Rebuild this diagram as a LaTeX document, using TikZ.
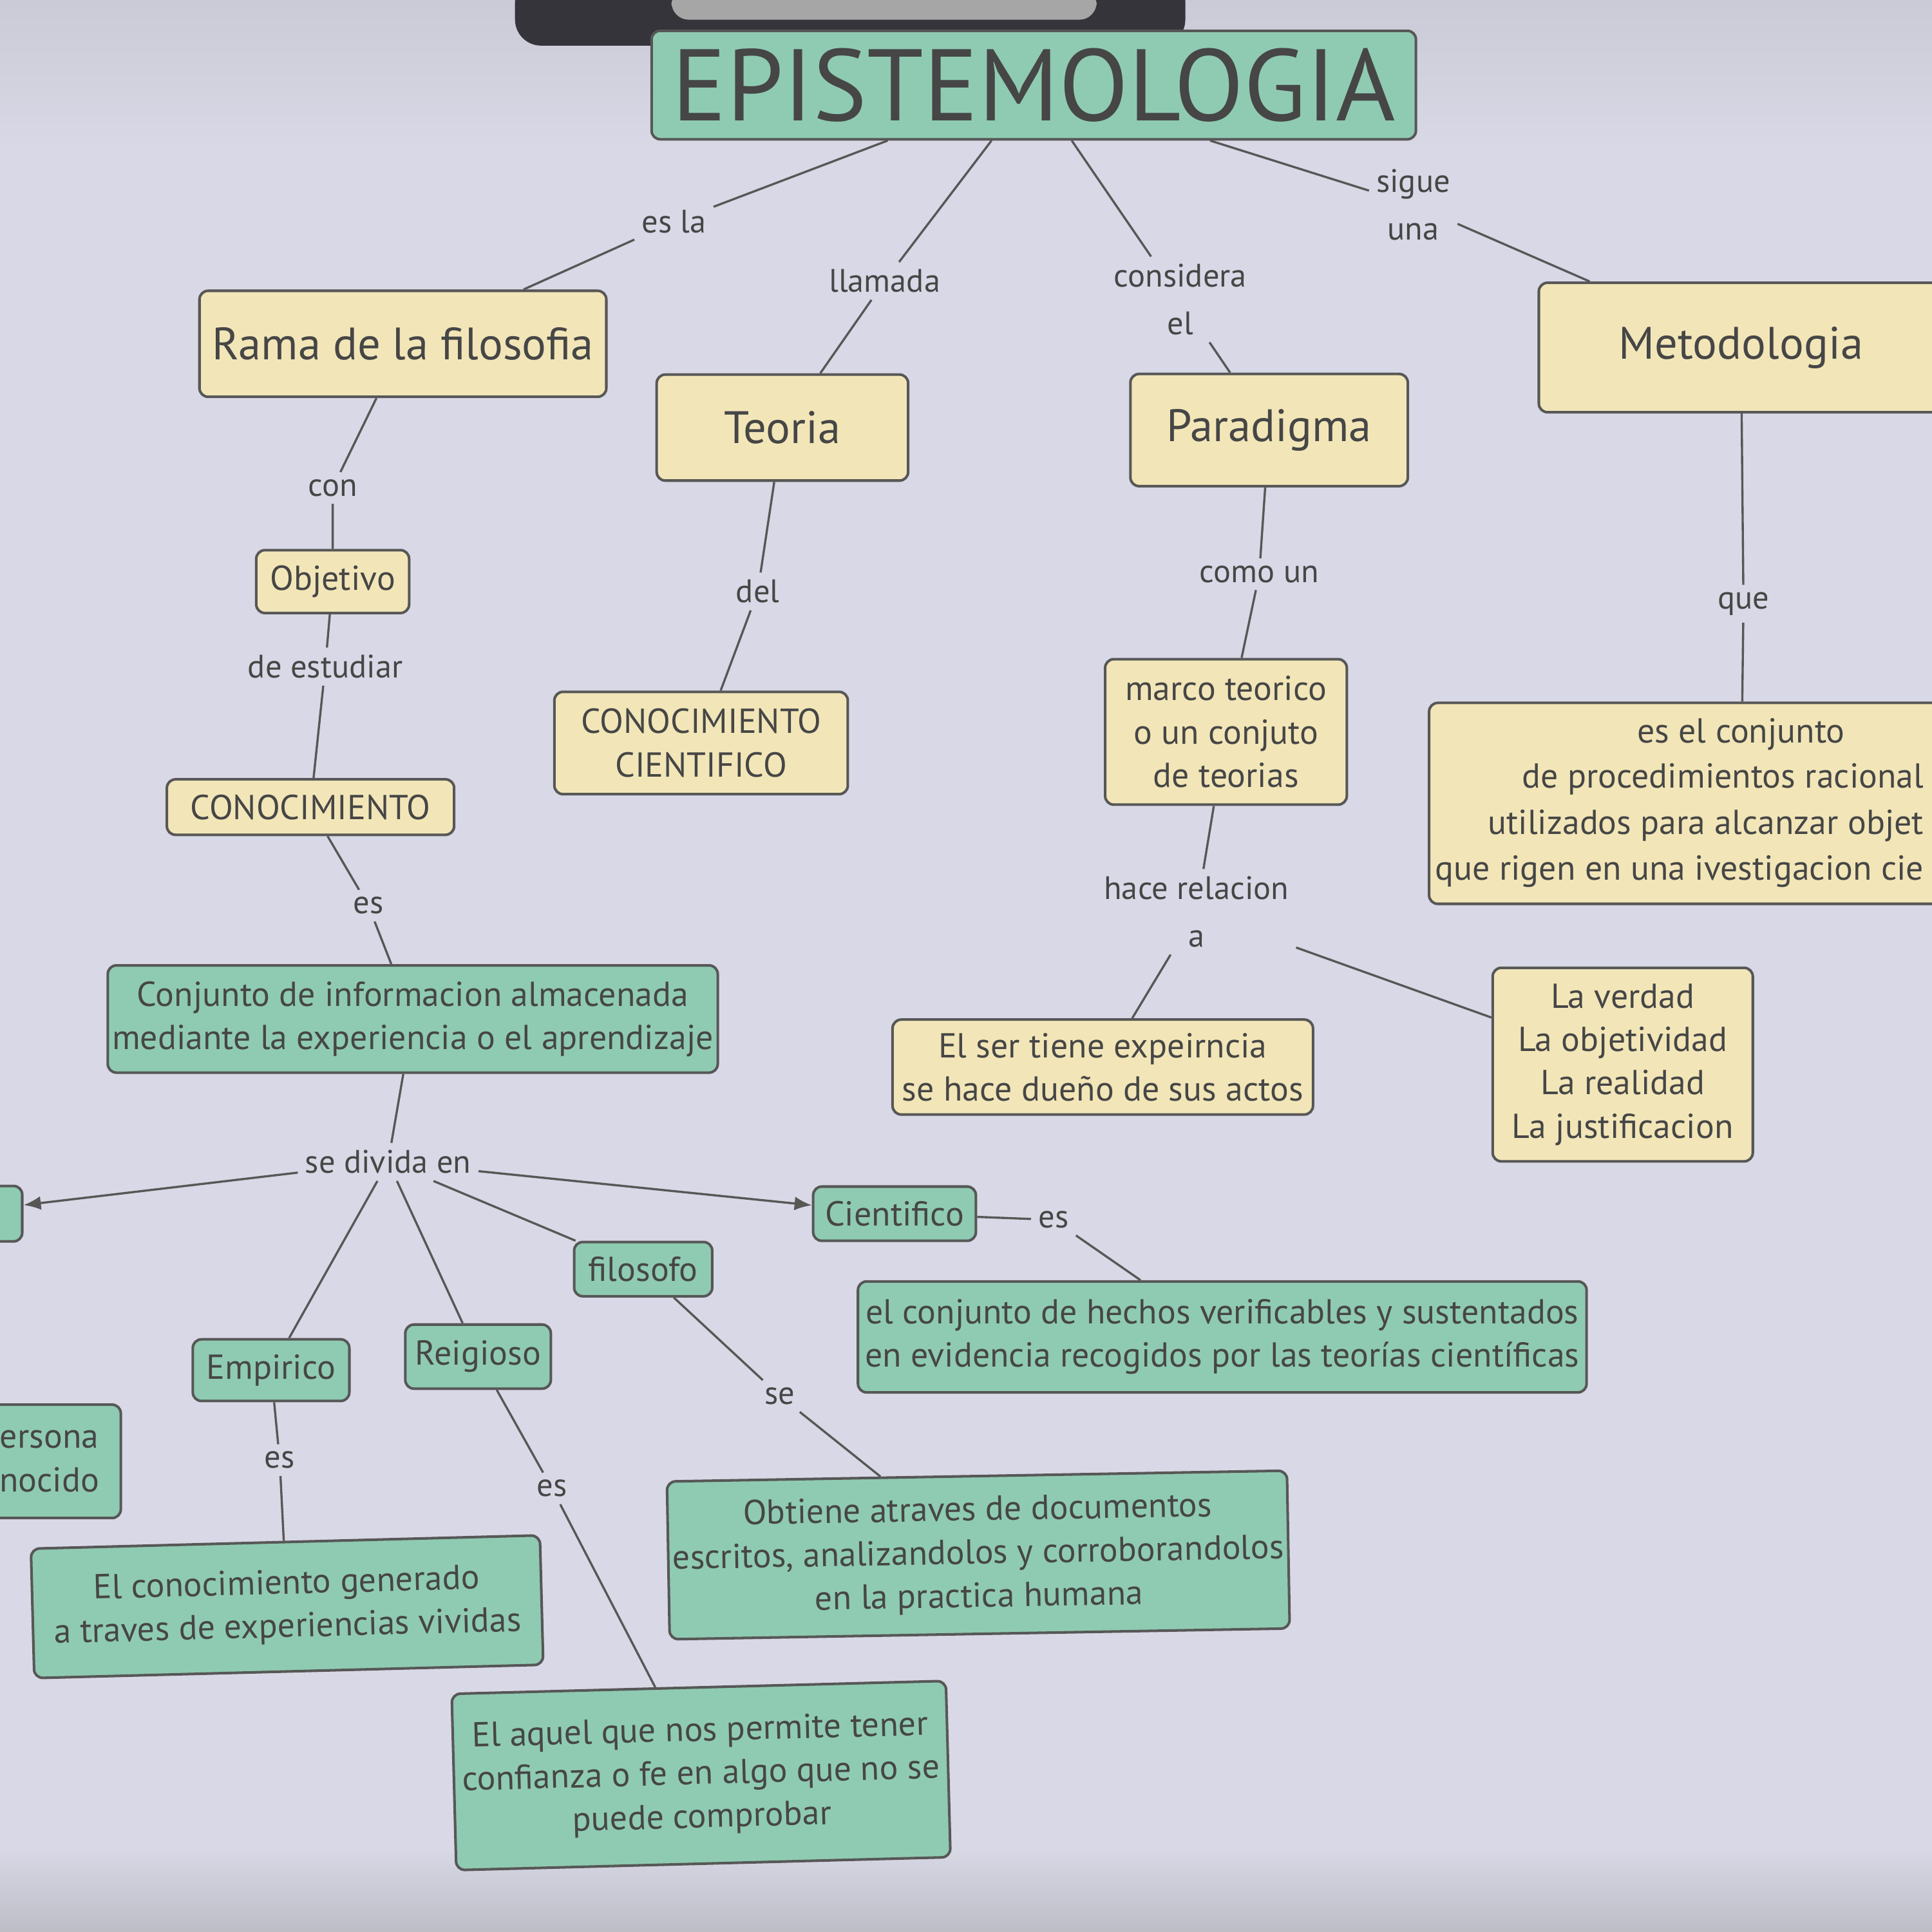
\documentclass[tikz,border=0pt]{standalone}
\usepackage{fontspec}
\setmainfont{PT Sans}
\usepackage{tikz}
\usetikzlibrary{arrows.meta,calc}
\definecolor{papel}{HTML}{D8D8E6}
\definecolor{verde}{HTML}{8FCBB2}
\definecolor{amarillo}{HTML}{F2E6B8}
\definecolor{tinta}{HTML}{464646}
\definecolor{borde}{HTML}{575757}
\definecolor{pinza}{HTML}{34343A}

\begin{document}
\begin{tikzpicture}[x=0.01cm, y=-0.01cm,
    caja/.style={draw=borde, line width=0.6pt, rounded corners=2pt, text=tinta, align=center, inner sep=1pt},
    amar/.style={caja, fill=amarillo},
    verd/.style={caja, fill=verde},
    enlace/.style={text=tinta, align=center, inner sep=1.5pt, font=\fontsize{7.5}{11}\selectfont},
    linea/.style={draw=borde, line width=0.5pt},
    flecha/.style={linea, -{Latex[length=4pt,width=3.2pt]}},
    t8/.style={font=\fontsize{8}{10}\selectfont},
    t10/.style={font=\fontsize{10.5}{12}\selectfont}]
    % hoja
    \useasboundingbox(0,0)rectangle(1568,1568);
    \path[clip](0,0)rectangle(1568,1568);
    \fill[papel](0,0)rectangle(1568,1568);
    \shade[top color=papel!85!gray, bottom color=papel](0,0)rectangle(1568,120);
    \shade[top color=papel, bottom color=papel!70!gray](0,1500)rectangle(1568,1568);
    \fill[pinza, rounded corners=6pt](418,-20)rectangle(962,37);
    \fill[gray!70, rounded corners=4pt](545,-10)rectangle(890,16);

    % conceptos
    \node[verd, minimum width=6.2cm, minimum height=0.88cm, font=\fontsize{23.5}{26}\selectfont](titulo)at(839,69){EPISTEMOLOGIA};
    \node[amar, t10, minimum width=3.3cm, minimum height=0.86cm](rama)at(327,279){Rama de la filosofia};
    \node[amar, t10, minimum width=2.04cm, minimum height=0.86cm](teoria)at(635,347){Teoria};
    \node[amar, t10, minimum width=2.25cm, minimum height=0.91cm](paradigma)at(1030,349){Paradigma};
    \node[amar, t10, minimum width=3.28cm, minimum height=1.05cm](metodo)at(1413,282){Metodologia};
    \node[amar, t8, minimum width=1.24cm, minimum height=0.51cm](objetivo)at(270,472){Objetivo};
    \node[amar, t8, minimum width=2.33cm, minimum height=0.45cm](conoc)at(252,655){CONOCIMIENTO};
    \node[amar, t8, minimum width=2.38cm, minimum height=0.83cm](concient)at(569,603){CONOCIMIENTO\\CIENTIFICO};
    \node[amar, t8, minimum width=1.96cm, minimum height=1.18cm](marco)at(995,594){marco teorico\\o un conjuto\\de teorias};
    \node[amar, t8, minimum width=3.41cm, minimum height=0.77cm](elser)at(895,866){El ser tiene expeirncia\\se hace dueño de sus actos};
    \node[amar, t8, minimum width=2.11cm, minimum height=1.57cm](verdad)at(1317,864){La verdad\\La objetividad\\La realidad\\La justificacion};
    \node[amar, minimum width=5.06cm, minimum height=1.63cm](procs)at(1413,652){};
    \node[text=tinta, t8, inner sep=0pt](procsA)at(1413,596){es el conjunto};
    \node[text=tinta, align=right, inner sep=0pt, font=\fontsize{8}{10.6}\selectfont, anchor=east](procsB)at(1562,670){de procedimientos racional\\utilizados para alcanzar objet\\que rigen en una ivestigacion cie};
    \node[verd, t8, minimum width=4.9cm, minimum height=0.87cm](conjunto)at(335,827){Conjunto de informacion almacenada\\mediante la experiencia o el aprendizaje};
    \node[verd, t8, minimum width=1.16cm, minimum height=0.45cm](izq)at(-40,985){};
    \node[verd, t8, minimum width=1.32cm, minimum height=0.44cm](cientifico)at(726,985){Cientifico};
    \node[verd, t8, minimum width=1.12cm, minimum height=0.44cm](filosofo)at(522,1030){filosofo};
    \node[verd, t8, minimum width=1.27cm, minimum height=0.50cm](empirico)at(220,1112){Empirico};
    \node[verd, t8, minimum width=1.18cm, minimum height=0.52cm](religioso)at(388,1101){Reigioso};
    \node[verd, t8, minimum width=1.16cm, minimum height=0.92cm](persona)at(40,1186){ersona\\nocido};
    \node[verd, t8, minimum width=5.91cm, minimum height=0.90cm](hechos)at(992,1085){el conjunto de hechos verificables y sustentados\\en evidencia recogidos por las teorías científicas};
    \node[verd, t8, minimum width=5.0cm, minimum height=1.28cm, rotate=1](obtiene)at(794,1262){Obtiene atraves de documentos\\escritos, analizandolos y corroborandolos\\en la practica humana};
    \node[verd, t8, minimum width=4.13cm, minimum height=1.05cm, rotate=1.5](generado)at(233,1304){El conocimiento generado\\a traves de experiencias vividas};
    \node[verd, t8, minimum width=4.01cm, minimum height=1.43cm, rotate=1.5](aquel)at(569,1441){El aquel que nos permite tener\\confianza o fe en algo que no se\\puede comprobar};

    % palabras de enlace
    \node[enlace](esla)at(547,180){es la};
    \node[enlace](llamada)at(718,228){llamada};
    \node[enlace](considera)at(958,243){considera\\el};
    \node[enlace](sigue)at(1147,166){sigue\\una};
    \node[enlace](con)at(270,396){con};
    \node[enlace](estudiar)at(264,541){de estudiar};
    \node[enlace](esA)at(299,735){es};
    \node[enlace](del)at(615,480){del};
    \node[enlace](comoun)at(1022,466){como un};
    \node[enlace](relacion)at(971,740){hace relacion\\a};
    \node[enlace](que)at(1415,490){que};
    \node[enlace](divida)at(315,943){se divida en};
    \node[enlace](esB)at(855,990){es};
    \node[enlace](esC)at(227,1185){es};
    \node[enlace](esD)at(448,1208){es};
    \node[enlace](se)at(633,1133){se};

    % lineas
    \path[linea](titulo)to(esla)to(rama);
    \path[linea](titulo)to(llamada)to(teoria);
    \path[linea](titulo)to(considera)to(paradigma);
    \path[linea](titulo)to(sigue)to(metodo);
    \path[linea](rama)to(con)to(objetivo);
    \path[linea](objetivo)to(estudiar)to(conoc);
    \path[linea](conoc)to(esA)to(conjunto);
    \path[linea](conjunto)to(divida);
    \path[flecha](divida)to(izq);
    \path[flecha](divida)to(cientifico);
    \path[linea](divida)to(empirico);
    \path[linea](divida)to(religioso);
    \path[linea](divida)to(filosofo);
    \path[linea](cientifico)to(esB)to(hechos);
    \path[linea](empirico)to(esC)to(generado);
    \path[linea](religioso)to(esD)to(aquel);
    \path[linea](filosofo)to(se)to(obtiene);
    \path[linea](teoria)to(del)to(concient);
    \path[linea](paradigma)to(comoun)to(marco);
    \path[linea](marco)to(relacion);
    \path[linea](relacion)to(elser);
    \path[linea](relacion)to(verdad);
    \path[linea](metodo)to(que)to(procs);
\end{tikzpicture}
\end{document}
